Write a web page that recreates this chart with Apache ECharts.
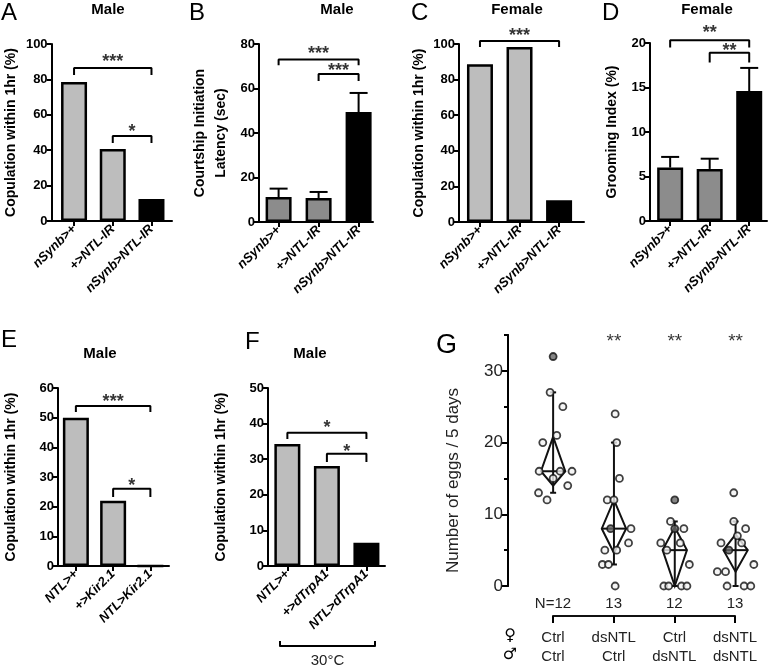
<!DOCTYPE html>
<html><head><meta charset="utf-8">
<script src="https://cdn.jsdelivr.net/npm/echarts@6/dist/echarts.min.js"></script>
<style>html,body{margin:0;padding:0;background:#fff}#c{width:768px;height:670px}</style>
</head><body><div id="c"></div>
<script>
const FONT = 'Arial, "Liberation Sans", Helvetica, sans-serif';

// ---------- DATA ----------
// Panel A (Male, copulation %)
const catsA = ['nSynb>+', '+>NTL-IR', 'nSynb>NTL-IR'];
const valsA = [78.5, 40.7, 12.5];
const bracketsA = [[0, 2, 86.4, 82.5], [1, 2, 48, 44]];      // from, to, top, tick end
const starsA = [[1, 90, '***'], [1.5, 50.5, '*']];
// Panel B (Male, courtship latency)
const catsB = ['nSynb>+', '+>NTL-IR', 'nSynb>NTL-IR'];
const valsB = [11.2, 10.8, 49.4];
const errB = [15, 13.5, 58];
const bracketsB = [[0, 2, 73, 70.5], [1, 2, 66.5, 63.4]];
const starsB = [[1, 75.5, '***'], [1.5, 68, '***']];
// Panel C (Female, copulation %)
const catsC = ['nSynb>+', '+>NTL-IR', 'nSynb>NTL-IR'];
const valsC = [88.6, 98.3, 12.2];
const bracketsC = [[0, 2, 101.7, 98.3]];
const starsC = [[1, 104.5, '***']];
// Panel D (Female, grooming index)
const catsD = ['nSynb>+', '+>NTL-IR', 'nSynb>NTL-IR'];
const valsD = [6.0, 5.85, 14.6];
const errD = [7.2, 7.0, 17.2];
const bracketsD = [[0, 2, 20.3, 19.5], [1, 2, 18.9, 17.8]];
const starsD = [[1, 21.1, '**'], [1.5, 19.1, '**']];
// Panel E (Male, Kir2.1)
const catsE = ['NTL>+', '+>Kir2.1', 'NTL>Kir2.1'];
const valsE = [50, 22, 0];
const bracketsE = [[0, 2, 53.9, 51.9], [1, 2, 26, 23.3]];
const starsE = [[1, 55.3, '***'], [1.5, 27, '*']];
// Panel F (Male, dTrpA1 at 30C)
const catsF = ['NTL>+', '+>dTrpA1', 'NTL>dTrpA1'];
const valsF = [34.3, 28.1, 6.5];
const bracketsF = [[0, 2, 37.4, 35.7], [1, 2, 31.5, 29.2]];
const starsF = [[1, 38.8, '*'], [1.5, 32, '*']];

// Panel G (eggs / 5 days)
const femaleG = ['Ctrl', 'dsNTL', 'Ctrl', 'dsNTL'];
const maleG = ['Ctrl', 'Ctrl', 'dsNTL', 'dsNTL'];
const nG = ['N=12', '13', '12', '13'];
const eggsG1 = [32, 27, 25, 21, 20, 16, 16, 16, 15, 14, 13, 12];
const jitG1 = [0, -0.05, 0.16, 0.06, -0.17, -0.23, 0.115, 0.31, 0, 0.24, -0.24, -0.10];
const filledG1 = [1, 0, 0, 0, 0, 0, 0, 0, 0, 0, 0, 0];
const eggsG2 = [24, 20, 15, 12, 12, 8, 8, 6, 5, 5, 3, 3, 0];
const jitG2 = [0.02, 0.045, 0.09, -0.11, 0.0, -0.055, 0.28, 0.24, -0.15, 0.045, -0.19, -0.09, 0.02];
const filledG2 = [0, 0, 0, 0, 0, 1, 0, 0, 0, 0, 0, 0, 0];
const eggsG3 = [12, 9, 8, 8, 6, 6, 5, 3, 0, 0, 0, 0];
const jitG3 = [0, -0.07, 0, 0.15, -0.23, 0.09, -0.13, 0.24, -0.18, -0.10, 0.11, 0.2];
const filledG3 = [1, 0, 1, 0, 0, 0, 0, 0, 0, 0, 0, 0];
const eggsG4 = [13, 9, 8, 7, 6, 6, 5, 3, 2, 2, 0, 0, 0];
const jitG4 = [-0.03, -0.03, 0.165, 0.03, -0.24, 0.1, -0.11, 0.30, -0.30, -0.165, -0.14, 0.14, 0.25];
const filledG4 = [0, 0, 0, 0, 0, 0, 1, 0, 0, 0, 0, 0, 0];
// group summary: [group, whiskerLow, whiskerHigh, diamondLow, diamondHigh, median]
const summaryG = [[0, 13, 27, 14, 20.8, 16], [1, 3, 20, 4.6, 12, 8], [2, 0, 9, 0, 8.2, 5], [3, 0, 9, 2, 7.2, 5]];
const starsG = [[1, 34, '**'], [2, 34, '**'], [3, 34, '**']];
const yTicksG = [0, 10, 20, 30];
const yMinorG = [5, 15, 25, 35];

// ---------- STYLE / LAYOUT ----------
const LIGHT = '#bdbdbd', DARK = '#8c8c8c', BLACK = '#000';
const panels = [
  {cats: catsA, vals: valsA, br: bracketsA, st: starsA, colors: [LIGHT, LIGHT, BLACK],
   grid: {left: 49, top: 44, width: 123, height: 177}, xr: [-0.58, 2.53], yMax: 100, yInt: 20,
   name: 'Copulation within 1hr (%)', gap: 29},
  {cats: catsB, vals: valsB, err: errB, br: bracketsB, st: starsB, colors: [DARK, DARK, BLACK],
   grid: {left: 259, top: 44, width: 114, height: 178}, xr: [-0.49, 2.36], yMax: 80, yInt: 20,
   name: 'Courtship Initiation\nLatency (sec)', gap: 27},
  {cats: catsC, vals: valsC, br: bracketsC, st: starsC, colors: [LIGHT, LIGHT, BLACK],
   grid: {left: 459, top: 44, width: 125, height: 178}, xr: [-0.53, 2.63], yMax: 100, yInt: 20,
   name: 'Copulation within 1hr (%)', gap: 29},
  {cats: catsD, vals: valsD, err: errD, br: bracketsD, st: starsD, colors: [DARK, DARK, BLACK],
   grid: {left: 650, top: 43, width: 117, height: 178}, xr: [-0.51, 2.45], yMax: 20, yInt: 5,
   name: 'Grooming Index (%)', gap: 27},
  {cats: catsE, vals: valsE, br: bracketsE, st: starsE, colors: [LIGHT, LIGHT, BLACK],
   grid: {left: 51, top: 388, width: 118, height: 178}, xr: [-0.48, 2.5], yMax: 60, yInt: 10,
   name: 'Copulation within 1hr (%)', gap: 36},
  {cats: catsF, vals: valsF, br: bracketsF, st: starsF, colors: [LIGHT, LIGHT, BLACK],
   grid: {left: 268, top: 388, width: 117, height: 178}, xr: [-0.49, 2.47], yMax: 50, yInt: 10,
   name: 'Copulation within 1hr (%)', gap: 36}
];

const grids = [], xAxes = [], yAxes = [], series = [];
const axisLine = {show: true, onZero: false, lineStyle: {color: '#000', width: 2}};
const tickStyle = {color: '#000', width: 2};

function starSeries(xi, yi, stars, font) {
  return {
    type: 'scatter', xAxisIndex: xi, yAxisIndex: yi, symbolSize: 1, clip: false, silent: true,
    itemStyle: {color: 'rgba(0,0,0,0)'},
    data: stars.map(s => ({value: [s[0], s[1]], label: {formatter: s[2]}})),
    label: {show: true, position: 'inside', color: '#000', fontFamily: FONT,
      fontSize: font.size, fontWeight: font.weight}
  };
}

panels.forEach(p => {
  const gi = grids.length;
  grids.push(p.grid);
  xAxes.push({
    gridIndex: gi, type: 'value', min: p.xr[0], max: p.xr[1],
    axisLine: axisLine, splitLine: {show: false},
    axisTick: {show: true, customValues: [0, 1, 2], length: 5, lineStyle: tickStyle},
    axisLabel: {customValues: [0, 1, 2], formatter: v => p.cats[Math.round(v)], rotate: 45,
      fontFamily: FONT, fontWeight: 'bold', fontStyle: 'italic', fontSize: 13, color: '#000', margin: 6}
  });
  yAxes.push({
    gridIndex: gi, type: 'value', min: 0, max: p.yMax, interval: p.yInt,
    name: p.name, nameLocation: 'middle', nameGap: p.gap,
    nameTextStyle: {fontFamily: FONT, fontWeight: 'bold', fontSize: 14, color: '#000', lineHeight: 21},
    axisLine: axisLine, splitLine: {show: false},
    axisTick: {show: true, length: 5, lineStyle: tickStyle},
    axisLabel: {fontFamily: FONT, fontWeight: 'bold', fontSize: 13, color: '#000', margin: 4}
  });
  series.push({
    type: 'bar', xAxisIndex: gi, yAxisIndex: gi, barWidth: 26, silent: true,
    itemStyle: {borderColor: '#000', borderWidth: 2.5},
    data: p.vals.map((v, i) => ({value: [i, v], itemStyle: {color: p.colors[i]}}))
  });
  if (p.err) {
    series.push({
      type: 'custom', xAxisIndex: gi, yAxisIndex: gi, silent: true, z: 5,
      data: p.vals.map((v, i) => [i, v, p.err[i]]),
      renderItem: (params, api) => {
        const a = api.coord([api.value(0), api.value(1)]);
        const b = api.coord([api.value(0), api.value(2)]);
        const st = {stroke: '#000', lineWidth: 2};
        return {type: 'group', children: [
          {type: 'line', shape: {x1: a[0], y1: a[1], x2: b[0], y2: b[1]}, style: st},
          {type: 'line', shape: {x1: b[0] - 9, y1: b[1], x2: b[0] + 9, y2: b[1]}, style: st}
        ]};
      }
    });
  }
  p.br.forEach(b => {
    series.push({
      type: 'line', xAxisIndex: gi, yAxisIndex: gi, symbol: 'none', clip: false, silent: true,
      lineStyle: {color: '#000', width: 2},
      data: [[b[0], b[3]], [b[0], b[2]], [b[1], b[2]], [b[1], b[3]]]
    });
  });
  series.push(starSeries(gi, gi, p.st, {size: 18, weight: 'bold'}));
});

// ---- Panel G ----
const gG = grids.length;
grids.push({left: 508, top: 335, width: 258, height: 251});
xAxes.push({gridIndex: gG, type: 'value', min: -0.742, max: 3.5, show: false});
const yG = yAxes.length;
yAxes.push({
  gridIndex: gG, type: 'value', min: 0, max: 35, position: 'left',
  name: 'Number of eggs / 5 days', nameLocation: 'middle', nameGap: 46,
  nameTextStyle: {fontFamily: FONT, fontSize: 17, color: '#222', padding: [0, 40, 0, 0]},
  axisLine: axisLine, splitLine: {show: false},
  axisTick: {show: true, customValues: yTicksG, length: 7, lineStyle: tickStyle},
  axisLabel: {customValues: yTicksG, fontFamily: FONT, fontSize: 17, color: '#222', margin: 5}
});
yAxes.push({
  gridIndex: gG, type: 'value', min: 0, max: 35, position: 'left', offset: 0,
  axisLine: axisLine, splitLine: {show: false},
  axisTick: {show: true, customValues: yMinorG, length: 4, lineStyle: tickStyle},
  axisLabel: {show: false}
});

series.push({
  type: 'custom', xAxisIndex: gG, yAxisIndex: yG, silent: true, z: 2,
  data: summaryG,
  renderItem: (params, api) => {
    const x = api.value(0);
    const hw = 0.2;
    const wl = api.coord([x, api.value(1)]), wh = api.coord([x, api.value(2)]);
    const dl = api.coord([x, api.value(3)]), dh = api.coord([x, api.value(4)]);
    const ml = api.coord([x - hw, api.value(5)]), mr = api.coord([x + hw, api.value(5)]);
    const st = {stroke: '#111', lineWidth: 2, fill: null};
    return {type: 'group', children: [
      {type: 'line', shape: {x1: wl[0], y1: wl[1], x2: wh[0], y2: wh[1]}, style: st},
      {type: 'line', shape: {x1: wl[0] - 3, y1: wl[1], x2: wl[0] + 3, y2: wl[1]}, style: st},
      {type: 'line', shape: {x1: wh[0] - 3, y1: wh[1], x2: wh[0] + 3, y2: wh[1]}, style: st},
      {type: 'polygon', shape: {points: [dh, mr, dl, ml]}, style: st},
      {type: 'line', shape: {x1: ml[0], y1: ml[1], x2: mr[0], y2: mr[1]}, style: st}
    ]};
  }
});
const groups = [[eggsG1, jitG1, filledG1], [eggsG2, jitG2, filledG2], [eggsG3, jitG3, filledG3], [eggsG4, jitG4, filledG4]];
const pts = [];
groups.forEach((g, gi) => g[0].forEach((e, i) => pts.push({
  value: [gi + g[1][i], e],
  itemStyle: {color: g[2][i] ? '#666' : '#f2f2f2'}
})));
series.push({
  type: 'scatter', xAxisIndex: gG, yAxisIndex: yG, symbol: 'circle', symbolSize: 7, silent: true, z: 4,
  itemStyle: {borderColor: '#111', borderWidth: 1.8},
  data: pts
});
series.push(starSeries(gG, yG, starsG, {size: 19, weight: 'normal'}));

// G bottom labels with bracket
const gN = grids.length;
grids.push({left: 553, top: 615, width: 182, height: 1});
xAxes.push({
  gridIndex: gN, type: 'category', boundaryGap: false, position: 'bottom',
  data: femaleG.map((f, i) => f + '\n' + maleG[i]),
  axisLine: {show: true, lineStyle: {color: '#111', width: 2}},
  axisTick: {show: true, length: 7, lineStyle: tickStyle},
  axisLabel: {interval: 0, fontFamily: FONT, fontSize: 15, lineHeight: 19, color: '#222', margin: 12}
});
xAxes.push({
  gridIndex: gN, type: 'category', boundaryGap: false, position: 'top', data: nG,
  axisLine: {show: false}, axisTick: {show: false},
  axisLabel: {interval: 0, fontFamily: FONT, fontSize: 15, color: '#222', margin: 4}
});
yAxes.push({gridIndex: gN, type: 'value', show: false});

// F bottom bracket (30°C)
const gT = grids.length;
grids.push({left: 280, top: 641, width: 95, height: 5});
xAxes.push({
  gridIndex: gT, type: 'category', boundaryGap: false, data: ['', ''],
  axisLine: {show: true, lineStyle: {color: '#000', width: 2}},
  axisTick: {show: true, inside: true, length: 5, lineStyle: tickStyle},
  axisLabel: {show: false},
  name: '30°C', nameLocation: 'middle', nameGap: 7,
  nameTextStyle: {fontFamily: FONT, fontSize: 15, color: '#222'}
});
yAxes.push({gridIndex: gT, type: 'value', show: false});

// ---- texts ----
function txt(x, y, text, font, align) {
  return {type: 'text', x: x, y: y, silent: true,
    style: {text: text, font: font, fill: '#000', textAlign: align || 'left', textVerticalAlign: 'top'}};
}
const letterFont = '24px ' + FONT;
const titleFont = 'bold 15px ' + FONT;
const graphic = [
  txt(1, 1, 'A', letterFont), txt(189, 1, 'B', letterFont), txt(411, 1, 'C', letterFont),
  txt(602, 1, 'D', letterFont), txt(1, 328, 'E', letterFont), txt(245, 330, 'F', letterFont),
  txt(436, 332, 'G', '27px ' + FONT),
  txt(108, 2, 'Male', titleFont, 'center'), txt(337, 2, 'Male', titleFont, 'center'),
  txt(517, 2, 'Female', titleFont, 'center'), txt(707, 2, 'Female', titleFont, 'center'),
  txt(100, 346, 'Male', titleFont, 'center'), txt(310, 346, 'Male', titleFont, 'center'),
  txt(510, 628, '♀', '16px "DejaVu Sans"', 'center'), txt(510, 647, '♂', '16px "DejaVu Sans"', 'center')
];

const chart = echarts.init(document.getElementById('c'), null, {renderer: 'canvas'});
chart.setOption({
  animation: false, backgroundColor: '#fff',
  grid: grids, xAxis: xAxes, yAxis: yAxes, series: series, graphic: graphic
});
</script></body></html>
